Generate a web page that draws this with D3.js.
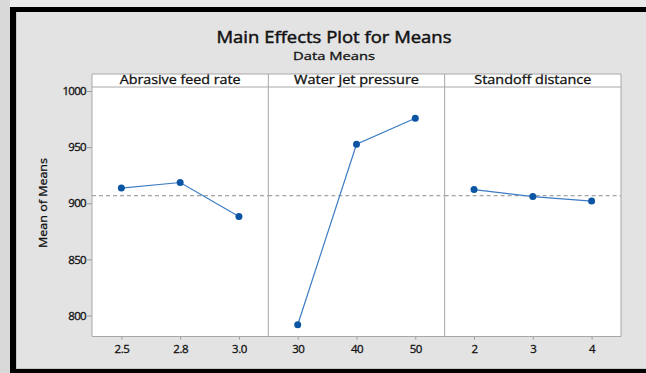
<!DOCTYPE html>
<html>
<head>
<meta charset="utf-8">
<script src="https://cdn.jsdelivr.net/npm/d3@7/dist/d3.min.js"></script>
<style>
  html, body { margin: 0; padding: 0; background: #dadada; }
  svg { display: block; }
  text { font-family: "Open Sans", "Noto Sans", "Liberation Sans", sans-serif; fill: #111; stroke: #111; stroke-width: 0.3; }
</style>
</head>
<body>
<svg id="chart" width="646" height="373"></svg>
<script>
// Factors and their levels
const factors = ["Abrasive feed rate", "Water jet pressure", "Standoff distance"];
const abrasiveLevels = ["2.5", "2.8", "3.0"];
const pressureLevels = ["30", "40", "50"];
const standoffLevels = ["2", "3", "4"];

// Mean of means at each level
const abrasiveMeans = [913.5, 918.5, 888.2];
const pressureMeans = [791.8, 952.6, 975.8];
const standoffMeans = [912.2, 906.0, 902.0];

const yTicks = [800, 850, 900, 950, 1000];

const title = "Main Effects Plot for Means";
const subtitle = "Data Means";
const yLabel = "Mean of Means";

const panels = [
  { name: factors[0], levels: abrasiveLevels, means: abrasiveMeans, labelW: 121 },
  { name: factors[1], levels: pressureLevels, means: pressureMeans, labelW: 125 },
  { name: factors[2], levels: standoffLevels, means: standoffMeans, labelW: 117 }
];

const grandMean = d3.mean(panels.flatMap(p => p.means));

const svg = d3.select("#chart");
const W = 646, H = 373;

// Outer frame
svg.append("rect").attr("x", 0).attr("y", 0).attr("width", W).attr("height", H).attr("fill", "#d9d9d9");
svg.append("rect").attr("x", 10).attr("y", 0).attr("width", W - 10).attr("height", 7).attr("fill", "#ebebeb");
svg.append("rect").attr("x", 10).attr("y", 7).attr("width", W - 10).attr("height", H - 7).attr("fill", "#000");
svg.append("rect").attr("x", 16).attr("y", 12).attr("width", W - 16).attr("height", 357).attr("fill", "#e3e3e3");
svg.append("line").attr("x1", 16.5).attr("x2", 16.5).attr("y1", 12).attr("y2", 369).attr("stroke", "#c8c8c8");
svg.append("line").attr("x1", 16).attr("x2", W).attr("y1", 368.5).attr("y2", 368.5).attr("stroke", "#c8c8c8");

// Plot geometry
const plotLeft = 92, plotRight = 621, stripTop = 74, plotTop = 87, plotBottom = 336.5;
const panelW = (plotRight - plotLeft) / panels.length;

const y = d3.scaleLinear().domain([781.3, 1003.6]).range([plotBottom, plotTop]);

// Titles
svg.append("text").attr("x", 334).attr("y", 43).attr("text-anchor", "middle")
  .attr("font-size", 15.5).attr("textLength", 235).attr("lengthAdjust", "spacingAndGlyphs")
  .style("stroke-width", 0.45)
  .text(title);
svg.append("text").attr("x", 334).attr("y", 59.5).attr("text-anchor", "middle")
  .attr("font-size", 11.5).attr("textLength", 82).attr("lengthAdjust", "spacingAndGlyphs")
  .text(subtitle);

// Y axis label
svg.append("text")
  .attr("transform", `translate(47,203) rotate(-90)`)
  .attr("text-anchor", "middle").attr("font-size", 11.5)
  .attr("textLength", 90).attr("lengthAdjust", "spacingAndGlyphs")
  .text(yLabel);

// Y axis
const yAxis = svg.append("g").attr("transform", `translate(${plotLeft},0)`)
  .call(d3.axisLeft(y).tickValues(yTicks).tickSize(5).tickPadding(1).tickFormat(d3.format("d")));
yAxis.select(".domain").remove();
yAxis.selectAll(".tick line").attr("stroke", "#999");
yAxis.selectAll(".tick text").attr("font-size", 11.5).attr("fill", "#111")
  .style("font-family", "'Open Sans', sans-serif").attr("letter-spacing", "-0.7");

panels.forEach((p, i) => {
  const x0 = plotLeft + i * panelW, x1 = x0 + panelW;
  const x = d3.scalePoint().domain(p.levels).range([x0, x1]).padding(0.5);

  // panel body and strip
  svg.append("rect").attr("x", x0).attr("y", stripTop).attr("width", panelW).attr("height", plotBottom - stripTop)
    .attr("fill", "#fff");
  svg.append("line").attr("x1", x0).attr("x2", x1).attr("y1", plotTop).attr("y2", plotTop).attr("stroke", "#a8a8a8");
  svg.append("text").attr("x", (x0 + x1) / 2).attr("y", 84).attr("text-anchor", "middle")
    .attr("font-size", 12).attr("textLength", p.labelW).attr("lengthAdjust", "spacingAndGlyphs")
    .text(p.name);

  // grand mean reference
  svg.append("line").attr("x1", x0).attr("x2", x1).attr("y1", y(grandMean)).attr("y2", y(grandMean))
    .attr("stroke", "#8c8c8c").attr("stroke-dasharray", "4,3");

  // x axis
  const xAxis = svg.append("g").attr("transform", `translate(0,${plotBottom})`)
    .call(d3.axisBottom(x).tickSize(3).tickPadding(5));
  xAxis.select(".domain").remove();
  xAxis.selectAll(".tick line").attr("stroke", "#999");
  xAxis.selectAll(".tick text").attr("font-size", 11.5).attr("fill", "#111")
    .style("font-family", "'Open Sans', sans-serif").attr("letter-spacing", "-0.5");

  const pts = p.levels.map((l, k) => [x(l), y(p.means[k])]);
  svg.append("path").attr("d", d3.line()(pts)).attr("fill", "none")
    .attr("stroke", "#3d7cc4").attr("stroke-width", 1.2);
  svg.selectAll(null).data(pts).enter().append("circle")
    .attr("cx", d => d[0]).attr("cy", d => d[1]).attr("r", 3.5).attr("fill", "#0b55a3");
});

// panel borders
for (let i = 0; i <= panels.length; i++) {
  const xx = plotLeft + i * panelW;
  svg.append("line").attr("x1", xx).attr("x2", xx).attr("y1", stripTop).attr("y2", plotBottom).attr("stroke", "#a8a8a8");
}
svg.append("line").attr("x1", plotLeft).attr("x2", plotRight).attr("y1", stripTop).attr("y2", stripTop).attr("stroke", "#a8a8a8");
svg.append("line").attr("x1", plotLeft).attr("x2", plotRight).attr("y1", plotBottom).attr("y2", plotBottom).attr("stroke", "#a8a8a8");
</script>
</body>
</html>
